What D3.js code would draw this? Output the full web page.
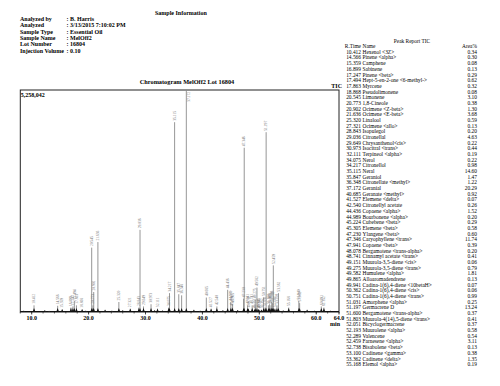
<!DOCTYPE html>
<html>
<head>
<meta charset="utf-8">
<script src="https://cdn.jsdelivr.net/npm/d3@7"></script>
<style>
    body { margin: 0; background: #fff; }
    svg { display: block; font-family: "Liberation Serif", "Times New Roman", serif; }
</style>
</head>
<body>
<div id="chart"></div>
<script>
// Sample info
const infoLabels = ["Analyzed by", "Analyzed", "Sample Type", "Sample Name", "Lot Number", "Injection Volume"];
const infoValues = [": B. Harris", ": 3/13/2015 7:10:02 PM", ": Essential Oil", ": MelOff2", ": 16804", ": 0.10"];

// Peak report
const peakTimes = [10.412, 14.566, 15.359, 16.899, 17.247, 17.494, 17.863, 18.868, 20.545, 20.773,
    20.902, 21.636, 25.320, 27.321, 28.843, 29.036, 29.649, 30.973, 32.111, 34.075,
    34.217, 35.115, 35.847, 36.348, 37.172, 40.685, 41.527, 42.540, 44.436, 44.989,
    45.224, 45.305, 47.230, 47.346, 47.941, 48.078, 48.741, 49.151, 49.275, 49.582,
    49.865, 49.941, 50.362, 50.751, 51.031, 51.197, 51.600, 51.803, 52.051, 52.193,
    52.289, 52.459, 52.738, 53.100, 53.362, 55.168];
const peakNames = ["Hexenol <3Z>", "Pinene <alpha>", "Camphene", "Sabinene", "Pinene <beta>",
    "Hept-5-en-2-one <6-methyl->", "Myrcene", "Pseudolimonene", "Limonene", "1,8-Cineole",
    "Ocimene <Z-beta>", "Ocimene <E-beta>", "Linalool", "Ocimene <allo>", "Isopulegol",
    "Citronellal", "Chrysanthenol<cis>", "Isocitral <trans>", "Terpineol <alpha>", "Nerol",
    "Citronellol", "Neral", "Geraniol", "Citronellate <methyl>", "Geranial",
    "Geranate <methyl>", "Elemene <delta>", "Citronellyl acetate", "Copaene <alpha>", "Bourbonene <alpha>",
    "Cubebene <beta>", "Elemene <beta>", "Ylangene <beta>", "Caryophyllene <trans>", "Copaene <beta>",
    "Bergamotene <trans-alpha>", "Cinnamyl acetate <trans>", "Muurola-3,5-diene <cis>", "Muurola-3,5-diene <trans>", "Humulene <alpha>",
    "Alloaromadendrene", "Cadina-1(6),4-diene <10betaH>", "Cadina-1(6),4-diene <cis>", "Cadina-1(6),4-diene <trans>", "Amorphene <alpha>",
    "Germacrene D", "Bergamotene <trans-alpha>", "Muurola-4(14),5-diene <trans>", "Bicyclogermacrene", "Muurolene <alpha>",
    "Valencene", "Farnesene <alpha>", "Bisabolene <beta>", "Cadinene <gamma>", "Cadinene <delta>",
    "Elemol <alpha>"];
const peakAreas = ["0.34", "0.30", "0.08", "0.13", "0.29", "0.62", "0.32", "0.08", "3.10", "0.38",
    "1.30", "3.68", "0.59", "0.13", "0.20", "4.63", "0.22", "0.44", "0.19", "0.22",
    "0.98", "14.60", "1.47", "1.22", "20.29", "0.92", "0.07", "0.26", "1.52", "0.20",
    "0.29", "0.58", "0.60", "11.74", "0.39", "0.20", "0.41", "0.06", "0.79", "1.81",
    "0.13", "0.07", "0.06", "0.99", "0.25", "13.24", "0.37", "0.41", "0.37", "0.58",
    "0.54", "3.11", "0.13", "0.38", "1.35", "0.19"];
// peak heights relative to the TIC maximum
const peakHeights = [0.03, 0.028, 0.012, 0.02, 0.025, 0.05, 0.03, 0.012, 0.29, 0.03,
    0.09, 0.315, 0.045, 0.015, 0.02, 0.37, 0.025, 0.035, 0.015, 0.02,
    0.085, 0.855, 0.08, 0.075, 1.0, 0.065, 0.015, 0.025, 0.10, 0.045,
    0.02, 0.035, 0.06, 0.74, 0.03, 0.015, 0.03, 0.01, 0.055, 0.11,
    0.012, 0.01, 0.01, 0.065, 0.02, 0.81, 0.03, 0.035, 0.03, 0.045,
    0.04, 0.21, 0.015, 0.03, 0.085, 0.02];

// labelled peaks past the end of the report
const extraTimes = [56.940, 57.082, 60.891, 61.352];
const extraHeights = [0.05, 0.04, 0.025, 0.02];

// small unlabelled bumps on the baseline
const minorTimes = [8.6, 12.3, 13.1, 19.5, 22.9, 24.1, 26.0, 31.6, 33.0, 38.5, 39.6, 43.6, 46.2, 54.2, 58.4, 59.7, 62.5];
const minorHeights = [0.006, 0.008, 0.005, 0.006, 0.01, 0.006, 0.008, 0.008, 0.007, 0.01, 0.006, 0.008, 0.009, 0.007, 0.01, 0.006, 0.006];

const xTicks = [10, 20, 30, 40, 50, 60, 64];
const maxLabel = "5,258,042";

// Set up dimensions
let dimensions = {
    width: 500,
    height: 386,
    margin: {top: 90, right: 161, bottom: 74, left: 20.3},
}
dimensions.boundedWidth = dimensions.width - dimensions.margin.left - dimensions.margin.right
dimensions.boundedHeight = dimensions.height - dimensions.margin.top - dimensions.margin.bottom

const xScale = d3.scaleLinear()
    .domain([8, 64])
    .range([0, dimensions.boundedWidth]);

const yScale = d3.scaleLinear()
    .domain([0, 1])
    .range([dimensions.boundedHeight, 0]);

const svg = d3.select("#chart")
    .append("svg")
        .attr("width", dimensions.width)
        .attr("height", dimensions.height)

svg.append("rect")
    .attr("width", dimensions.width)
    .attr("height", dimensions.height)
    .attr("fill", "#fff")

// Header
svg.append("text")
    .attr("x", 155)
    .attr("y", 14.5)
    .attr("font-size", 6)
    .attr("font-weight", "bold")
    .text("Sample Information")

const info = svg.append("g")
    .attr("font-size", 6)
    .attr("font-weight", "bold")

info.selectAll(".info-label")
    .data(infoLabels)
    .join("text")
        .attr("class", "info-label")
        .attr("x", 20)
        .attr("y", (d, i) => 21 + i * 6.3)
        .text(d => d)

info.selectAll(".info-value")
    .data(infoValues)
    .join("text")
        .attr("class", "info-value")
        .attr("x", 66.5)
        .attr("y", (d, i) => 21 + i * 6.3)
        .text(d => d)

// Chromatogram
svg.append("text")
    .attr("x", 187)
    .attr("y", 84)
    .attr("text-anchor", "middle")
    .attr("font-size", 6.3)
    .attr("font-weight", "bold")
    .text("Chromatogram MelOff2 Lot 16804")

const bounds = svg.append("g")
    .attr("transform", `translate(${dimensions.margin.left}, ${dimensions.margin.top})`)

bounds.append("rect")
    .attr("width", dimensions.boundedWidth)
    .attr("height", dimensions.boundedHeight)
    .attr("fill", "none")
    .attr("stroke", "#222")
    .attr("stroke-width", 1)

bounds.append("text")
    .attr("x", 0.5)
    .attr("y", 7)
    .attr("font-size", 6)
    .attr("font-weight", "bold")
    .text(maxLabel)

bounds.append("text")
    .attr("x", dimensions.boundedWidth + 3)
    .attr("y", -2)
    .attr("text-anchor", "end")
    .attr("font-size", 6)
    .attr("font-weight", "bold")
    .text("TIC")

// X axis
const xAxis = bounds.append("g")
    .attr("transform", `translate(0, ${dimensions.boundedHeight})`)

xAxis.selectAll(".minor")
    .data(d3.range(8, 64.1, 2))
    .join("line")
        .attr("class", "minor")
        .attr("x1", d => xScale(d))
        .attr("x2", d => xScale(d))
        .attr("y1", 0)
        .attr("y2", 1.5)
        .attr("stroke", "#222")
        .attr("stroke-width", 0.7)

xAxis.selectAll(".major")
    .data(xTicks)
    .join("line")
        .attr("class", "major")
        .attr("x1", d => xScale(d))
        .attr("x2", d => xScale(d))
        .attr("y1", 0)
        .attr("y2", 2.5)
        .attr("stroke", "#222")
        .attr("stroke-width", 0.8)

xAxis.selectAll(".tick-label")
    .data(xTicks)
    .join("text")
        .attr("class", "tick-label")
        .attr("x", d => xScale(d))
        .attr("y", 8)
        .attr("text-anchor", "middle")
        .attr("font-size", 6)
        .attr("font-weight", "bold")
        .text(d => d3.format(".1f")(d))

xAxis.append("text")
    .attr("x", dimensions.boundedWidth + 1)
    .attr("y", 14)
    .attr("text-anchor", "end")
    .attr("font-size", 6)
    .attr("font-weight", "bold")
    .text("min")

// Peaks
const allPeaks = peakTimes.map((t, i) => ({time: t, h: peakHeights[i], label: true}))
    .concat(extraTimes.map((t, i) => ({time: t, h: extraHeights[i], label: true})))
    .concat(minorTimes.map((t, i) => ({time: t, h: minorHeights[i], label: false})))

const peaks = bounds.append("g")

// baseline trace
peaks.append("line")
    .attr("x1", xScale(8))
    .attr("x2", xScale(64))
    .attr("y1", yScale(0) - 0.5)
    .attr("y2", yScale(0) - 0.5)
    .attr("stroke", "#111")
    .attr("stroke-width", 1)

peaks.selectAll(".peak-line")
    .data(allPeaks)
    .join("line")
        .attr("class", "peak-line")
        .attr("x1", d => xScale(d.time))
        .attr("x2", d => xScale(d.time))
        .attr("y1", yScale(0))
        .attr("y2", d => yScale(d.h))
        .attr("stroke", "#8a8a8a")
        .attr("stroke-width", 0.9)

// dark peak feet
peaks.selectAll(".peak-foot")
    .data(allPeaks)
    .join("path")
        .attr("class", "peak-foot")
        .attr("d", d => {
            const x = xScale(d.time)
            const y0 = yScale(0)
            const top = Math.max(yScale(d.h), y0 - 4)
            return `M${x - 1.4},${y0} L${x},${top} L${x + 1.4},${y0} Z`
        })
        .attr("fill", "#111")

peaks.selectAll(".peak-label")
    .data(allPeaks.filter(d => d.label))
    .join("text")
        .attr("class", "peak-label")
        .attr("font-size", 3.6)
        .attr("fill", "#777")
        .attr("text-anchor", d => d.h > 0.95 ? "end" : "start")
        .attr("transform", d => {
            const x = xScale(d.time)
            if (d.h > 0.95) return `translate(${x + 3.4}, 2) rotate(-90)`
            return `translate(${x + 1.2}, ${yScale(d.h) - 1.5}) rotate(-90)`
        })
        .text(d => d3.format(".3f")(d.time))

// Peak report table
const table = svg.append("g")
    .attr("font-size", 5.4)

table.append("text")
    .attr("x", 412)
    .attr("y", 42.5)
    .attr("text-anchor", "middle")
    .text("Peak Report TIC")

table.append("text")
    .attr("x", 361)
    .attr("y", 48)
    .attr("text-anchor", "end")
    .text("R.Time")

table.append("text")
    .attr("x", 362.5)
    .attr("y", 48)
    .text("Name")

table.append("text")
    .attr("x", 477)
    .attr("y", 48)
    .attr("text-anchor", "end")
    .text("Area%")

const rowY = i => 53.8 + i * 5.68

table.selectAll(".r-time")
    .data(peakTimes)
    .join("text")
        .attr("class", "r-time")
        .attr("x", 361)
        .attr("y", (d, i) => rowY(i))
        .attr("text-anchor", "end")
        .text(d => d3.format(".3f")(d))

table.selectAll(".r-name")
    .data(peakNames)
    .join("text")
        .attr("class", "r-name")
        .attr("x", 362.5)
        .attr("y", (d, i) => rowY(i))
        .text(d => d)

table.selectAll(".r-area")
    .data(peakAreas)
    .join("text")
        .attr("class", "r-area")
        .attr("x", 477)
        .attr("y", (d, i) => rowY(i))
        .attr("text-anchor", "end")
        .text(d => d)
</script>
</body>
</html>
